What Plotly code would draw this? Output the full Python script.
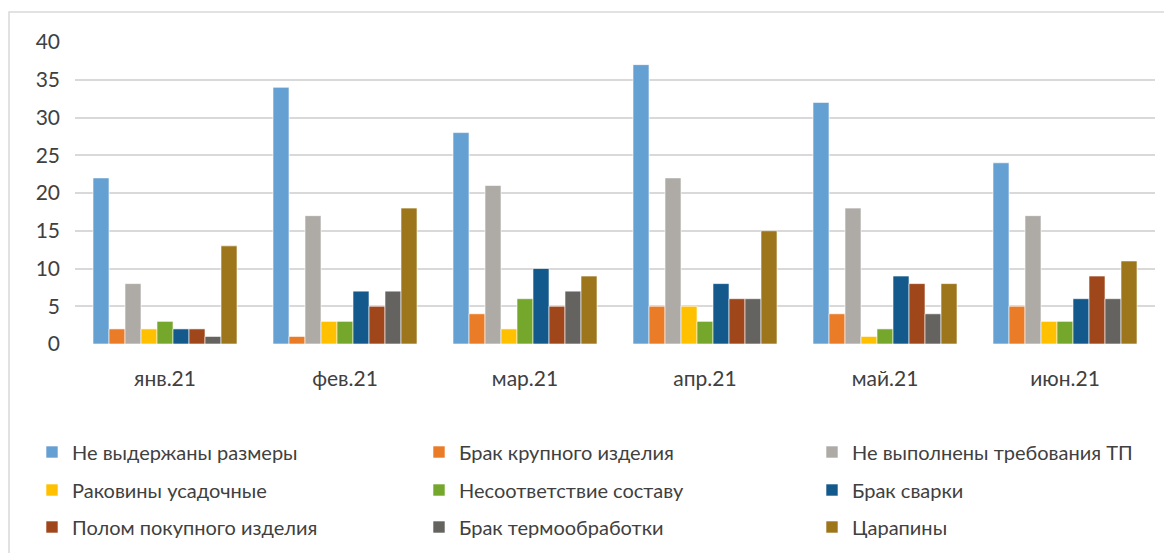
import plotly.graph_objects as go

months = ["янв.21", "фев.21", "мар.21", "апр.21", "май.21", "июн.21"]

names = [
    "Не выдержаны размеры",
    "Брак крупного изделия",
    "Не выполнены требования ТП",
    "Раковины усадочные",
    "Несоответствие составу",
    "Брак сварки",
    "Полом покупного изделия",
    "Брак термообработки",
    "Царапины",
]

razmery = [22, 34, 28, 37, 32, 24]
krupnoe = [2, 1, 4, 5, 4, 5]
tp = [8, 17, 21, 22, 18, 17]
rakoviny = [2, 3, 2, 5, 1, 3]
sostav = [3, 3, 6, 3, 2, 3]
svarka = [2, 7, 10, 8, 9, 6]
polom = [2, 5, 5, 6, 8, 9]
termo = [1, 7, 7, 6, 4, 6]
tsarapiny = [13, 18, 9, 15, 8, 11]

series = [razmery, krupnoe, tp, rakoviny, sostav, svarka, polom, termo, tsarapiny]

colors = ["#65A0D3", "#EA7B27", "#AEABA7", "#FFC000", "#74A72B",
          "#13598B", "#A0461B", "#65635F", "#9D761B"]

FONT = "Lato, 'Liberation Sans', sans-serif"
W, H = 1164, 545  # page body adds an 8px margin

fig = go.Figure()
legend_ids = ["legend"] + [f"legend{k}" for k in range(2, 10)]
for i, (name, vals) in enumerate(zip(names, series)):
    fig.add_trace(go.Bar(
        x=months, y=vals, name=name,
        marker=dict(color=colors[i], line=dict(color="white", width=0.6)),
        legend=legend_ids[i],
    ))

# one legend per entry so the 3x3 grid matches the original spacing
col_x = [24, 411, 804]
row_y = [444, 482, 519]
legends = {}
for i, lid in enumerate(legend_ids):
    legends[lid] = dict(
        orientation="h", xref="container", yref="container",
        x=col_x[i % 3] / W, y=1 - row_y[i // 3] / H,
        xanchor="left", yanchor="middle",
        font=dict(family=FONT, size=20, color="#404040"),
        bgcolor="rgba(0,0,0,0)", itemclick=False, itemdoubleclick=False,
    )
fig.update_layout(**legends)

fig.update_layout(
    width=W, height=H,
    margin=dict(l=67, r=17, t=34, b=209),
    barmode="group", bargap=0.2, bargroupgap=0,
    plot_bgcolor="white", paper_bgcolor="white",
    font=dict(family=FONT, size=20, color="#404040"),
    showlegend=True,
)

fig.update_xaxes(showgrid=False, showline=False, ticks="", ticklabelstandoff=20,
                 tickfont=dict(size=21, color="#404040"))
fig.update_yaxes(range=[0, 40], dtick=5, showgrid=True, gridcolor="#D9D9D9",
                 gridwidth=2, zeroline=False, showline=False, ticks="",
                 ticklabelstandoff=14, tickfont=dict(size=21, color="#404040"))

# outer chart frame
fig.add_shape(type="rect", xref="paper", yref="paper",
              x0=(1 - 67) / 1080, x1=1.2, y0=-1, y1=(336 - 4) / 302,
              line=dict(color="#D9D9D9", width=1.5), layer="below")

fig.write_html("out.html")
